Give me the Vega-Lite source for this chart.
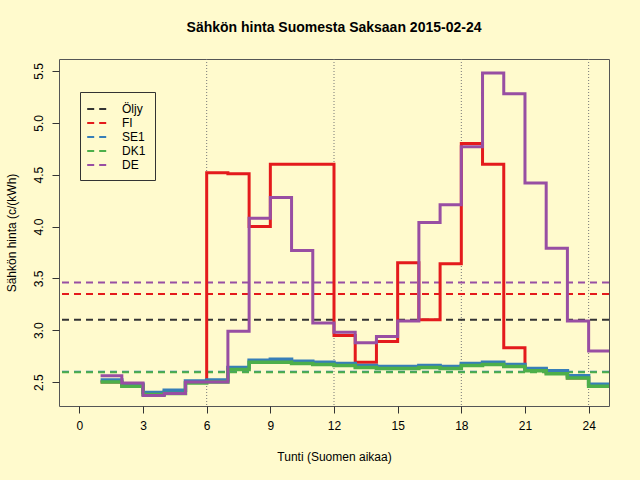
{
  "$schema": "https://vega.github.io/schema/vega-lite/v6.json",
  "width": 550,
  "height": 347,
  "autosize": {"type": "none"},
  "padding": {"left": 59, "top": 59, "right": 31, "bottom": 74},
  "background": "#FFFACD",
  "title": {
    "text": "Sähkön hinta Suomesta Saksaan 2015-02-24",
    "font": "Liberation Sans",
    "fontSize": 14,
    "fontWeight": "bold",
    "color": "#000000",
    "offset": 24,
    "anchor": "middle"
  },
  "config": {
    "font": "Liberation Sans",
    "view": {"stroke": "#555555", "strokeWidth": 1},
    "axis": {
      "domain": false,
      "grid": false,
      "tickColor": "#333333",
      "tickSize": 7,
      "labelFont": "Liberation Sans",
      "labelFontSize": 12,
      "labelColor": "#000000",
      "titleFont": "Liberation Sans",
      "titleFontSize": 12,
      "titleFontWeight": "normal",
      "titleColor": "#000000"
    },
    "legend": {
      "orient": "none",
      "legendX": 21,
      "legendY": 33,
      "strokeColor": "#333333",
      "padding": 9,
      "symbolType": "M -1.4 0 H 1.4",
      "symbolSize": 196,
      "symbolStrokeWidth": 2,
      "symbolDash": [7, 5],
      "labelFontSize": 12,
      "labelFont": "Liberation Sans",
      "labelColor": "#000000",
      "labelOffset": 17,
      "rowPadding": 0,
      "title": null
    }
  },
  "datasets": {
    "tasot": [
      {"sarja": "Öljy", "hinta": 3.10},
      {"sarja": "FI", "hinta": 3.35},
      {"sarja": "SE1", "hinta": 2.60},
      {"sarja": "DK1", "hinta": 2.595},
      {"sarja": "DE", "hinta": 3.46}
    ],
    "jaot": [
      {"tunti": 6}, {"tunti": 12}, {"tunti": 18}, {"tunti": 24}
    ],
    "hinnat": [
      {"sarja": "FI", "tunti": 1, "hinta": 2.50},
      {"sarja": "FI", "tunti": 2, "hinta": 2.47},
      {"sarja": "FI", "tunti": 3, "hinta": 2.40},
      {"sarja": "FI", "tunti": 4, "hinta": 2.41},
      {"sarja": "FI", "tunti": 5, "hinta": 2.50},
      {"sarja": "FI", "tunti": 6, "hinta": 4.52},
      {"sarja": "FI", "tunti": 7, "hinta": 4.51},
      {"sarja": "FI", "tunti": 8, "hinta": 4.00},
      {"sarja": "FI", "tunti": 9, "hinta": 4.60},
      {"sarja": "FI", "tunti": 10, "hinta": 4.60},
      {"sarja": "FI", "tunti": 11, "hinta": 4.60},
      {"sarja": "FI", "tunti": 12, "hinta": 2.95},
      {"sarja": "FI", "tunti": 13, "hinta": 2.69},
      {"sarja": "FI", "tunti": 14, "hinta": 2.89},
      {"sarja": "FI", "tunti": 15, "hinta": 3.65},
      {"sarja": "FI", "tunti": 16, "hinta": 3.10},
      {"sarja": "FI", "tunti": 17, "hinta": 3.64},
      {"sarja": "FI", "tunti": 18, "hinta": 4.80},
      {"sarja": "FI", "tunti": 19, "hinta": 4.60},
      {"sarja": "FI", "tunti": 20, "hinta": 2.83},
      {"sarja": "FI", "tunti": 21, "hinta": 2.62},
      {"sarja": "FI", "tunti": 22, "hinta": 2.59},
      {"sarja": "FI", "tunti": 23, "hinta": 2.54},
      {"sarja": "FI", "tunti": 24, "hinta": 2.46},
      {"sarja": "FI", "tunti": 25, "hinta": 2.46},
      {"sarja": "SE1", "tunti": 1, "hinta": 2.52},
      {"sarja": "SE1", "tunti": 2, "hinta": 2.48},
      {"sarja": "SE1", "tunti": 3, "hinta": 2.40},
      {"sarja": "SE1", "tunti": 4, "hinta": 2.42},
      {"sarja": "SE1", "tunti": 5, "hinta": 2.51},
      {"sarja": "SE1", "tunti": 6, "hinta": 2.52},
      {"sarja": "SE1", "tunti": 7, "hinta": 2.64},
      {"sarja": "SE1", "tunti": 8, "hinta": 2.71},
      {"sarja": "SE1", "tunti": 9, "hinta": 2.72},
      {"sarja": "SE1", "tunti": 10, "hinta": 2.70},
      {"sarja": "SE1", "tunti": 11, "hinta": 2.69},
      {"sarja": "SE1", "tunti": 12, "hinta": 2.68},
      {"sarja": "SE1", "tunti": 13, "hinta": 2.66},
      {"sarja": "SE1", "tunti": 14, "hinta": 2.65},
      {"sarja": "SE1", "tunti": 15, "hinta": 2.65},
      {"sarja": "SE1", "tunti": 16, "hinta": 2.66},
      {"sarja": "SE1", "tunti": 17, "hinta": 2.65},
      {"sarja": "SE1", "tunti": 18, "hinta": 2.68},
      {"sarja": "SE1", "tunti": 19, "hinta": 2.69},
      {"sarja": "SE1", "tunti": 20, "hinta": 2.67},
      {"sarja": "SE1", "tunti": 21, "hinta": 2.63},
      {"sarja": "SE1", "tunti": 22, "hinta": 2.61},
      {"sarja": "SE1", "tunti": 23, "hinta": 2.56},
      {"sarja": "SE1", "tunti": 24, "hinta": 2.48},
      {"sarja": "SE1", "tunti": 25, "hinta": 2.48},
      {"sarja": "DK1", "tunti": 1, "hinta": 2.50},
      {"sarja": "DK1", "tunti": 2, "hinta": 2.46},
      {"sarja": "DK1", "tunti": 3, "hinta": 2.38},
      {"sarja": "DK1", "tunti": 4, "hinta": 2.39},
      {"sarja": "DK1", "tunti": 5, "hinta": 2.49},
      {"sarja": "DK1", "tunti": 6, "hinta": 2.50},
      {"sarja": "DK1", "tunti": 7, "hinta": 2.62},
      {"sarja": "DK1", "tunti": 8, "hinta": 2.69},
      {"sarja": "DK1", "tunti": 9, "hinta": 2.69},
      {"sarja": "DK1", "tunti": 10, "hinta": 2.68},
      {"sarja": "DK1", "tunti": 11, "hinta": 2.67},
      {"sarja": "DK1", "tunti": 12, "hinta": 2.66},
      {"sarja": "DK1", "tunti": 13, "hinta": 2.64},
      {"sarja": "DK1", "tunti": 14, "hinta": 2.63},
      {"sarja": "DK1", "tunti": 15, "hinta": 2.63},
      {"sarja": "DK1", "tunti": 16, "hinta": 2.64},
      {"sarja": "DK1", "tunti": 17, "hinta": 2.63},
      {"sarja": "DK1", "tunti": 18, "hinta": 2.66},
      {"sarja": "DK1", "tunti": 19, "hinta": 2.67},
      {"sarja": "DK1", "tunti": 20, "hinta": 2.65},
      {"sarja": "DK1", "tunti": 21, "hinta": 2.61},
      {"sarja": "DK1", "tunti": 22, "hinta": 2.58},
      {"sarja": "DK1", "tunti": 23, "hinta": 2.54},
      {"sarja": "DK1", "tunti": 24, "hinta": 2.46},
      {"sarja": "DK1", "tunti": 25, "hinta": 2.46},
      {"sarja": "DE", "tunti": 1, "hinta": 2.56},
      {"sarja": "DE", "tunti": 2, "hinta": 2.49},
      {"sarja": "DE", "tunti": 3, "hinta": 2.37},
      {"sarja": "DE", "tunti": 4, "hinta": 2.39},
      {"sarja": "DE", "tunti": 5, "hinta": 2.50},
      {"sarja": "DE", "tunti": 6, "hinta": 2.50},
      {"sarja": "DE", "tunti": 7, "hinta": 2.99},
      {"sarja": "DE", "tunti": 8, "hinta": 4.08},
      {"sarja": "DE", "tunti": 9, "hinta": 4.28},
      {"sarja": "DE", "tunti": 10, "hinta": 3.77},
      {"sarja": "DE", "tunti": 11, "hinta": 3.07},
      {"sarja": "DE", "tunti": 12, "hinta": 2.98},
      {"sarja": "DE", "tunti": 13, "hinta": 2.88},
      {"sarja": "DE", "tunti": 14, "hinta": 2.94},
      {"sarja": "DE", "tunti": 15, "hinta": 3.09},
      {"sarja": "DE", "tunti": 16, "hinta": 4.04},
      {"sarja": "DE", "tunti": 17, "hinta": 4.21},
      {"sarja": "DE", "tunti": 18, "hinta": 4.77},
      {"sarja": "DE", "tunti": 19, "hinta": 5.48},
      {"sarja": "DE", "tunti": 20, "hinta": 5.28},
      {"sarja": "DE", "tunti": 21, "hinta": 4.42},
      {"sarja": "DE", "tunti": 22, "hinta": 3.79},
      {"sarja": "DE", "tunti": 23, "hinta": 3.09},
      {"sarja": "DE", "tunti": 24, "hinta": 2.80},
      {"sarja": "DE", "tunti": 25, "hinta": 2.80}
    ]
  },
  "encoding": {
    "x": {
      "field": "tunti",
      "type": "quantitative",
      "scale": {"domain": [-0.96, 24.96], "nice": false, "zero": false},
      "axis": {
        "title": "Tunti (Suomen aikaa)",
        "values": [0, 3, 6, 9, 12, 15, 18, 21, 24],
        "labelPadding": 7,
        "titlePadding": 20
      }
    },
    "y": {
      "field": "hinta",
      "type": "quantitative",
      "scale": {"domain": [2.269, 5.616], "nice": false, "zero": false},
      "axis": {
        "title": "Sähkön hinta (c/(kWh)",
        "values": [2.5, 3, 3.5, 4, 4.5, 5, 5.5],
        "format": ".1f",
        "labelAngle": 270,
        "labelAlign": "center",
        "labelBaseline": "bottom",
        "labelPadding": 7,
        "titlePadding": 14
      }
    },
    "color": {
      "field": "sarja",
      "type": "nominal",
      "scale": {
        "domain": ["Öljy", "FI", "SE1", "DK1", "DE"],
        "range": ["#333333", "#E41A1C", "#377EB8", "#4DAF4A", "#984EA3"]
      }
    }
  },
  "layer": [
    {
      "data": {"name": "jaot"},
      "mark": {"type": "rule", "color": "#777777", "strokeWidth": 1, "strokeDash": [1, 2]},
      "encoding": {
        "x": {"field": "tunti", "type": "quantitative"},
        "y": null,
        "color": null
      }
    },
    {
      "data": {"name": "tasot"},
      "mark": {"type": "rule", "strokeWidth": 2, "strokeDash": [7, 5]},
      "encoding": {
        "x": null
      }
    },
    {
      "data": {"name": "hinnat"},
      "transform": [{"filter": "datum.sarja == 'FI'"}],
      "mark": {"type": "line", "interpolate": "step-after", "strokeWidth": 3, "clip": true}
    },
    {
      "data": {"name": "hinnat"},
      "transform": [{"filter": "datum.sarja == 'SE1'"}],
      "mark": {"type": "line", "interpolate": "step-after", "strokeWidth": 3.5, "clip": true}
    },
    {
      "data": {"name": "hinnat"},
      "transform": [{"filter": "datum.sarja == 'DK1'"}],
      "mark": {"type": "line", "interpolate": "step-after", "strokeWidth": 3.5, "clip": true}
    },
    {
      "data": {"name": "hinnat"},
      "transform": [{"filter": "datum.sarja == 'DE'"}],
      "mark": {"type": "line", "interpolate": "step-after", "strokeWidth": 3, "clip": true}
    }
  ]
}
